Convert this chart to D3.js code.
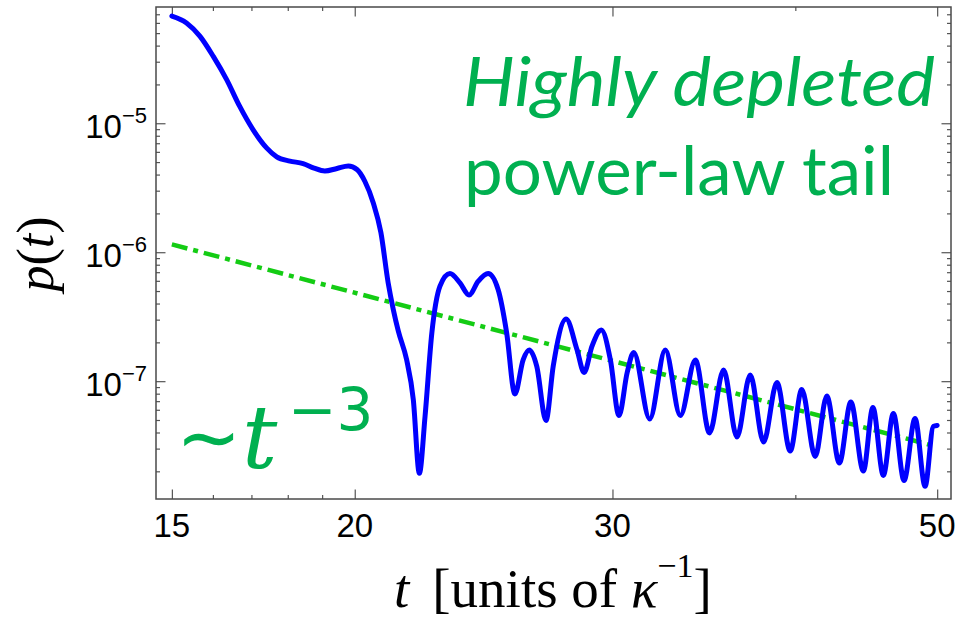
<!DOCTYPE html>
<html>
<head>
<meta charset="utf-8">
<script src="https://cdn.jsdelivr.net/npm/d3@7"></script>
<style>
  body { margin: 0; background: #fff; }
  svg { display: block; }
</style>
</head>
<body>
<svg id="chart" width="959" height="620"></svg>
<script>
"use strict";

// x ticks
const majorT = [15, 20, 30, 50];
const minorT = [16, 17, 18, 19, 40];
// y ticks (decade exponents, minor mantissas)
const decades = [-5, -6, -7];
const minorMant = [2, 3, 4, 5, 6, 7, 8, 9];
const minorDecades = [-8, -7, -6, -5];

// p(t) curve
const tCurve = [15.0, 15.35, 15.68, 16.01, 16.35, 16.69, 17.05, 17.41, 17.69, 18.06,
    18.44, 18.76, 19.08, 19.45, 19.80, 20.07, 20.32, 20.59, 20.84, 21.08,
    21.25, 21.42, 21.70, 21.93, 22.14, 22.34, 22.58, 22.87, 23.23, 23.60,
    23.94, 24.29, 24.67, 25.06, 25.40, 25.73, 26.07, 26.32, 26.63, 27.02,
    27.33, 27.89, 28.37, 28.69, 29.05, 29.48, 29.90, 30.31, 30.70, 31.02,
    31.81, 32.60, 33.38, 34.18, 34.95, 35.73, 36.49, 37.26, 38.05, 38.86,
    39.68, 40.41, 41.27, 42.03, 42.87, 43.65, 44.52, 45.19, 45.94, 46.67,
    47.46, 48.29, 49.06, 49.70, 50.0];
const pCurve = [6.78e-5, 6.0e-5, 4.72e-5, 3.30e-5, 2.18e-5, 1.35e-5, 8.85e-6, 6.44e-6, 5.49e-6, 5.09e-6,
    4.87e-6, 4.49e-6, 4.26e-6, 4.46e-6, 4.66e-6, 4.38e-6, 3.55e-6, 2.42e-6, 1.42e-6, 5.79e-7,
    3.60e-7, 2.44e-7, 1.47e-7, 7.21e-8, 1.93e-8, 5.36e-8, 2.37e-7, 5.45e-7, 6.84e-7, 5.79e-7,
    4.66e-7, 5.96e-7, 6.84e-7, 5.14e-7, 2.37e-7, 7.96e-8, 1.47e-7, 1.745e-7, 1.307e-7, 4.96e-8,
    1.307e-7, 3.03e-7, 1.76e-7, 1.168e-7, 1.867e-7, 2.49e-7, 1.47e-7, 5.42e-8, 1.162e-7, 1.67e-7,
    5.09e-8, 1.745e-7, 5.42e-8, 1.46e-7, 3.97e-8, 1.221e-7, 3.69e-8, 1.117e-7, 3.38e-8, 9.77e-8,
    2.88e-8, 8.62e-8, 2.61e-8, 7.68e-8, 2.32e-8, 6.90e-8, 2.01e-8, 6.25e-8, 1.86e-8, 5.62e-8,
    1.70e-8, 5.14e-8, 1.53e-8, 4.46e-8, 4.54e-8];

// ~t^-3 guide line
const tGuide = [15, 50];
const pGuide = [1.15e-6, 3.1e-8];

const svg = d3.select('#chart');
const frame = {left: 156, right: 951, top: 7, bottom: 499};

const x = d3.scaleLog().domain([14.63, 51.1]).range([frame.left, frame.right]);
const y = d3.scaleLog().domain([1.22e-8, 7.97e-5]).range([frame.bottom, frame.top]);

const majorP = decades.map(d => Math.pow(10, d));
const minorP = [];
minorDecades.forEach(d => minorMant.forEach(m => {
    const v = m * Math.pow(10, d);
    if (v > y.domain()[0] && v < y.domain()[1]) minorP.push(v);
}));

function ticks(axis, values, size, tx, ty) {
    const g = svg.append('g')
        .attr('transform', `translate(${tx},${ty})`)
        .call(axis.tickValues(values).tickSize(-size).tickFormat(''));
    g.select('.domain').remove();
    g.selectAll('line').attr('stroke', '#555').attr('stroke-width', 1.2);
}

ticks(d3.axisBottom(x), majorT, 9.5, 0, frame.bottom);
ticks(d3.axisBottom(x), minorT, 4, 0, frame.bottom);
ticks(d3.axisTop(x), majorT, 9.5, 0, frame.top);
ticks(d3.axisTop(x), minorT, 4, 0, frame.top);
ticks(d3.axisLeft(y), majorP, 9.5, frame.left, 0);
ticks(d3.axisLeft(y), minorP, 4, frame.left, 0);
ticks(d3.axisRight(y), majorP, 9.5, frame.right, 0);
ticks(d3.axisRight(y), minorP, 4, frame.right, 0);

svg.append('rect')
    .attr('x', frame.left).attr('y', frame.top)
    .attr('width', frame.right - frame.left).attr('height', frame.bottom - frame.top)
    .attr('fill', 'none').attr('stroke', '#4a4a4a').attr('stroke-width', 1.5);

// tick labels
svg.selectAll('.xlab')
    .data(majorT)
    .enter().append('text')
    .attr('x', d => x(d))
    .attr('y', 537)
    .attr('text-anchor', 'middle')
    .attr('font-family', 'Liberation Sans, Arial, sans-serif')
    .attr('font-size', 33)
    .text(d => d);

const ylab = svg.selectAll('.ylab')
    .data(decades)
    .enter().append('text')
    .attr('x', 147)
    .attr('y', d => y(Math.pow(10, d)) + 15)
    .attr('text-anchor', 'end')
    .attr('font-family', 'Liberation Sans, Arial, sans-serif')
    .attr('font-size', 33);
ylab.append('tspan').text('10');
ylab.append('tspan').attr('font-size', 22).attr('dy', -15).text(d => '\u2212' + Math.abs(d));

// axis titles
const ytitle = svg.append('text')
    .attr('transform', 'translate(53,254) rotate(-90)')
    .attr('text-anchor', 'middle')
    .attr('font-family', 'Liberation Serif, Times New Roman, serif')
    .attr('font-size', 52);
ytitle.append('tspan').attr('font-style', 'italic').text('p');
ytitle.append('tspan').text('(');
ytitle.append('tspan').attr('font-style', 'italic').text('t');
ytitle.append('tspan').text(')');

const xtitle = svg.append('text')
    .attr('x', 394).attr('y', 607)
    .attr('font-family', 'Liberation Serif, Times New Roman, serif')
    .attr('font-size', 55);
xtitle.append('tspan').attr('font-style', 'italic').text('t');
xtitle.append('tspan').attr('dx', 23).text('[units of ');
xtitle.append('tspan').attr('font-style', 'italic').text('\u03BA');
xtitle.append('tspan').attr('font-size', 34).attr('dy', -30).text('\u22121');
xtitle.append('tspan').attr('dy', 30).text(']');

// lines
const line = d3.line()
    .x(d => x(d[0]))
    .y(d => y(d[1]));

svg.append('path')
    .datum(tGuide.map((t, i) => [t, pGuide[i]]))
    .attr('d', line)
    .attr('fill', 'none')
    .attr('stroke', '#14cc14')
    .attr('stroke-width', 4.5)
    .attr('stroke-dasharray', '16,6,5,6');

svg.append('path')
    .datum(tCurve.map((t, i) => [t, pCurve[i]]))
    .attr('d', line.curve(d3.curveMonotoneX))
    .attr('fill', 'none')
    .attr('stroke', '#0000ff')
    .attr('stroke-width', 5)
    .attr('stroke-linejoin', 'round')
    .attr('stroke-linecap', 'round');

// annotations
const green = '#00b050';
svg.append('text')
    .attr('x', 463).attr('y', 106)
    .attr('font-family', 'Lato, Open Sans, sans-serif')
    .attr('font-style', 'italic')
    .attr('font-size', 68)
    .attr('fill', green)
    .attr('textLength', 472)
    .attr('lengthAdjust', 'spacingAndGlyphs')
    .text('Highly depleted');

svg.append('text')
    .attr('x', 464).attr('y', 195)
    .attr('font-family', 'Lato, Open Sans, sans-serif')
    .attr('font-size', 68)
    .attr('fill', green)
    .attr('textLength', 430)
    .attr('lengthAdjust', 'spacingAndGlyphs')
    .text('power-law tail');

svg.append('text')
    .attr('x', 176).attr('y', 464)
    .attr('font-family', 'DejaVu Sans, sans-serif')
    .attr('font-size', 78)
    .attr('fill', green)
    .text('\u223C');
svg.append('text')
    .attr('x', 242).attr('y', 468)
    .attr('font-family', 'DejaVu Serif, serif')
    .attr('font-style', 'italic')
    .attr('font-size', 88)
    .attr('fill', green)
    .text('t');
svg.append('text')
    .attr('x', 288).attr('y', 430)
    .attr('font-family', 'DejaVu Sans, sans-serif')
    .attr('font-size', 58)
    .attr('fill', green)
    .text('\u22123');
</script>
</body>
</html>
